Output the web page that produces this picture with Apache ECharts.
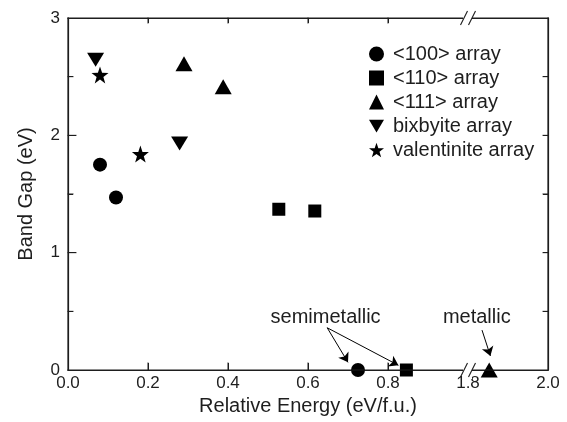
<!DOCTYPE html>
<html>
<head>
<meta charset="utf-8">
<script src="https://cdn.jsdelivr.net/npm/echarts@6/dist/echarts.min.js"></script>
<style>
  html, body { margin: 0; padding: 0; background: #fff; }
  #chart { width: 567px; height: 422px; }
</style>
</head>
<body>
<div id="chart"></div>
<script>
// relative energy (eV/f.u.) and band gap (eV) for each structure family
var e100 = [0.08, 0.12, 0.725];
var gap100 = [1.75, 1.47, 0];
var e110 = [0.527, 0.617, 0.846];
var gap110 = [1.37, 1.355, 0];
var e111 = [0.29, 0.388, 1.853];
var gap111 = [2.61, 2.413, 0];
var eBix = [0.069, 0.279];
var gapBix = [2.645, 1.93];
var eVal = [0.08, 0.181];
var gapVal = [2.515, 1.84];

var seriesNames = ['<100> array', '<110> array', '<111> array', 'bixbyite array', 'valentinite array'];

// broken x axis: 1.0 .. 1.8 is cut out
var BREAK_LO = 1.0, BREAK_HI = 1.8;
function squeeze(e) { return e >= BREAK_HI ? e - (BREAK_HI - BREAK_LO) : e; }
function unsqueeze(v) { return v >= BREAK_LO - 1e-9 ? v + (BREAK_HI - BREAK_LO) : v; }

// tick positions (squeezed x, band gap)
var xTicks = [0.2, 0.4, 0.6, 0.8];
var yMajor = [1, 2];
var yMinor = [0.5, 1.5, 2.5];

// arrows: [from energy, from gap, to energy, to gap]
var semiArrows = [[0.648, 0.36, 0.70, 0.065], [0.648, 0.36, 0.826, 0.04]];
var metalArrows = [[1.835, 0.34, 1.856, 0.12]];
var noteText = ['semimetallic', 'metallic'];
var notePos = [[0.644, 0.45], [1.822, 0.45]];

var starPath = 'path://M10,0L12.35,6.76L19.51,6.91L13.8,11.24L15.88,18.09L10,14L4.12,18.09L6.2,11.24L0.49,6.91L7.65,6.76Z';
var downTri = 'path://M0,0L10,0L5,8.5Z';

function pts(xs, ys) {
    return xs.map(function(x, i) { return [squeeze(x), ys[i]]; });
}

var FONT = 'Liberation Sans, Arial, sans-serif';
var INK = '#1e1e1e';

var chart = echarts.init(document.getElementById('chart'));

var arrowLines = semiArrows.concat(metalArrows).map(function(a) {
    return [{ coord: [squeeze(a[0]), a[1]] }, { coord: [squeeze(a[2]), a[3]] }];
});

function frameLine() {
    return { show: true, onZero: false, lineStyle: { color: INK, width: 1.2 } };
}
function ticks(len) {
    return { show: true, inside: true, length: len, lineStyle: { color: INK, width: 1 } };
}

var option = {
    animation: false,
    grid: { left: 68, right: 19, top: 18, bottom: 52 },
    legend: {
        data: seriesNames,
        orient: 'vertical',
        left: 364,
        top: 39,
        itemWidth: 15,
        itemHeight: 15,
        itemGap: 4,
        textStyle: { fontSize: 20, color: INK, fontFamily: FONT, padding: [0, 0, 0, 4] }
    },
    xAxis: [{
        type: 'value',
        min: 0, max: 1.2, interval: 0.2,
        name: 'Relative Energy (eV/f.u.)',
        nameLocation: 'middle',
        nameGap: 24,
        nameTextStyle: { fontSize: 20, color: INK, fontFamily: FONT },
        axisLine: frameLine(),
        axisTick: ticks(7),
        axisLabel: {
            fontSize: 17, color: INK, margin: 5, fontFamily: FONT,
            formatter: function(v) { return unsqueeze(v).toFixed(1); }
        },
        splitLine: { show: false }
    }, {
        type: 'value',
        position: 'top',
        min: 0, max: 1.2, interval: 0.2,
        axisLine: frameLine(),
        axisTick: ticks(5),
        axisLabel: { show: false },
        splitLine: { show: false }
    }],
    yAxis: [{
        type: 'value',
        min: 0, max: 3, interval: 1,
        name: 'Band Gap (eV)',
        nameLocation: 'middle',
        nameGap: 32,
        nameTextStyle: { fontSize: 20, color: INK, fontFamily: FONT },
        axisLine: frameLine(),
        axisTick: ticks(8),
        minorTick: { show: true, splitNumber: 2, length: 5 },
        axisLabel: { fontSize: 17, color: INK, margin: 8, fontFamily: FONT },
        splitLine: { show: false }
    }, {
        type: 'value',
        position: 'right',
        min: 0, max: 3, interval: 0.5,
        axisLine: frameLine(),
        axisTick: ticks(5),
        axisLabel: { show: false },
        splitLine: { show: false }
    }],
    series: [
        {
            name: seriesNames[0], type: 'scatter', symbol: 'circle', symbolSize: 14,
            itemStyle: { color: '#000', opacity: 1 }, data: pts(e100, gap100),
            markLine: {
                silent: true, animation: false,
                symbol: ['none', 'arrow'], symbolSize: 9,
                lineStyle: { color: '#000', width: 1, type: 'solid' },
                label: { show: false },
                data: arrowLines
            }
        },
        {
            name: seriesNames[1], type: 'scatter', symbol: 'rect', symbolSize: 13,
            itemStyle: { color: '#000', opacity: 1 }, data: pts(e110, gap110)
        },
        {
            name: seriesNames[2], type: 'scatter', symbol: 'triangle', symbolSize: [17, 15],
            itemStyle: { color: '#000', opacity: 1 }, data: pts(e111, gap111)
        },
        {
            name: seriesNames[3], type: 'scatter', symbol: downTri, symbolSize: [17, 14],
            itemStyle: { color: '#000', opacity: 1 }, data: pts(eBix, gapBix)
        },
        {
            name: seriesNames[4], type: 'scatter', symbol: starPath, symbolSize: 17,
            itemStyle: { color: '#000', opacity: 1 }, data: pts(eVal, gapVal)
        }
    ]
};

chart.setOption(option);

var zr = chart.getZr();
function px(v) { return chart.convertToPixel({ xAxisIndex: 0 }, v); }
function py(v) { return chart.convertToPixel({ yAxisIndex: 0 }, v); }
// axis-aligned strokes drawn as thin filled bars
function bar(x1, y1, x2, y2, w) {
    var h = w / 2;
    zr.add(new echarts.graphic.Rect({ z: 50,
        shape: { x: Math.min(x1, x2) - h, y: Math.min(y1, y2) - h,
                 width: Math.abs(x2 - x1) + w, height: Math.abs(y2 - y1) + w },
        style: { fill: INK } }));
}
function seg(x1, y1, x2, y2, w) {
    zr.add(new echarts.graphic.Line({ z: 101,
        shape: { x1: x1, y1: y1, x2: x2, y2: y2 },
        style: { stroke: INK, lineWidth: w } }));
}

// plot frame with inward ticks
var xL = px(0), xR = px(1.2), yB = py(0), yT = py(3);
bar(xL, yB, xR, yB, 1.2); bar(xL, yT, xR, yT, 1.2);
bar(xL, yB, xL, yT, 1.2); bar(xR, yB, xR, yT, 1.2);
xTicks.forEach(function(v) {
    bar(px(v), yB, px(v), yB - 7, 1);
    bar(px(v), yT, px(v), yT + 5, 1);
});
yMajor.forEach(function(v) { bar(xL, py(v), xL + 8, py(v), 1); bar(xR, py(v), xR - 5, py(v), 1); });
yMinor.forEach(function(v) { bar(xL, py(v), xL + 5, py(v), 1); bar(xR, py(v), xR - 5, py(v), 1); });

// annotation texts
noteText.forEach(function(t, i) {
    var p = chart.convertToPixel({ xAxisIndex: 0, yAxisIndex: 0 }, [squeeze(notePos[i][0]), notePos[i][1]]);
    zr.add(new echarts.graphic.Text({
        x: p[0], y: p[1], z: 100,
        style: { text: t, fill: INK, font: '20px ' + FONT, align: 'center', verticalAlign: 'middle' }
    }));
});

// axis break marks
var bx = px(BREAK_LO);
[yB, yT].forEach(function(y) {
    zr.add(new echarts.graphic.Rect({ z: 100,
        shape: { x: bx - 5, y: y - 9, width: 9, height: 18 },
        style: { fill: '#fff' } }));
    [-4, 4].forEach(function(dx) {
        seg(bx + dx - 3.5, y + 7, bx + dx + 3.5, y - 7, 1.1);
    });
});
</script>
</body>
</html>
